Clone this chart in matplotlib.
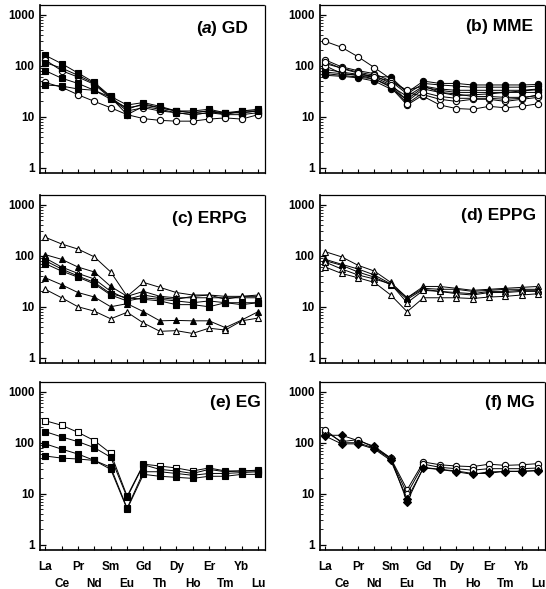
import matplotlib.pyplot as plt
from matplotlib.ticker import FixedLocator, NullFormatter

plt.rcParams['font.family'] = ['Liberation Sans', 'DejaVu Sans']
plt.rcParams['font.weight'] = 'bold'

elements = ['La', 'Ce', 'Pr', 'Nd', 'Sm', 'Eu', 'Gd', 'Th', 'Dy', 'Ho', 'Er', 'Tm', 'Yb', 'Lu']

# (a) GD
gd_1 = [160, 110, 72, 47, 25, 17, 19, 16, 13, 13, 14, 12, 13, 14]
gd_2 = [130, 80, 60, 43, 23, 13, 15, 13, 12, 11, 12, 11, 11, 12]
gd_3 = [115, 90, 65, 45, 24, 14, 18, 15, 13, 12, 13, 11, 13, 13]
gd_4 = [80, 57, 45, 33, 22, 15, 17, 15, 13, 12, 13, 12, 12, 13]
gd_5 = [47, 38, 27, 20, 15, 11, 9.2, 8.5, 8.2, 8.2, 9, 9.5, 9, 11]
gd_6 = [42, 40, 35, 33, 24, 11, 16, 14, 12, 11, 12, 12, 12, 13]

# (b) MME
mme_1 = [300, 230, 150, 92, 55, 30, 25, 17, 14.5, 14, 16, 15, 16, 18]
mme_2 = [85, 75, 68, 62, 60, 30, 50, 45, 45, 42, 42, 42, 42, 43]
mme_3 = [75, 70, 65, 60, 50, 28, 45, 42, 40, 38, 38, 38, 38, 40]
mme_4 = [130, 95, 80, 70, 50, 33, 40, 30, 28, 25, 25, 24, 24, 26]
mme_5 = [110, 90, 75, 65, 45, 20, 35, 30, 26, 27, 28, 30, 32, 34]
mme_6 = [70, 65, 60, 55, 40, 25, 40, 35, 33, 33, 33, 33, 33, 35]
mme_7 = [100, 70, 65, 55, 38, 17, 27, 22, 20, 22, 22, 20, 22, 24]
mme_8 = [65, 62, 58, 50, 35, 22, 38, 33, 30, 30, 30, 30, 30, 30]
mme_9 = [120, 88, 72, 60, 42, 18, 30, 25, 23, 23, 23, 22, 23, 27]

# (c) ERPG
erpg_1 = [230, 170, 135, 95, 48, 16, 30, 24, 19, 17, 17, 16, 16, 16]
erpg_2 = [105, 85, 60, 48, 25, 16, 20, 16, 15, 15, 15, 15, 15, 15]
erpg_3 = [90, 60, 45, 35, 20, 14, 17, 15, 14, 16, 17, 14, 16, 17]
erpg_4 = [80, 55, 40, 30, 18, 15, 14, 13, 11, 11, 10, 12, 11, 12]
erpg_5 = [70, 50, 38, 28, 17, 13, 15, 14, 13, 12, 13, 12, 12, 12]
erpg_6 = [37, 27, 19, 15.5, 10, 11.5, 8, 5.3, 5.4, 5.3, 5.3, 3.9, 5.5, 8]
erpg_7 = [22, 15, 10, 8.2, 5.8, 7.8, 4.8, 3.3, 3.4, 3.0, 3.8, 3.5, 5.3, 6.0]

# (d) EPPG
eppg_1 = [120, 95, 65, 50, 30, 15, 25, 25, 23, 21, 22, 23, 24, 25]
eppg_2 = [85, 68, 55, 42, 28, 15, 23, 22, 22, 20, 21, 22, 22, 22]
eppg_3 = [80, 65, 48, 38, 27, 14, 22, 20, 19, 18, 20, 20, 21, 21]
eppg_4 = [75, 55, 42, 35, 28, 12, 21, 20, 18, 17, 19, 19, 20, 20]
eppg_5 = [60, 45, 37, 30, 17, 8, 15, 15, 15, 14.5, 15.5, 16, 17, 18]

# (e) EG
eg_1 = [270, 220, 160, 110, 62, 9, 38, 35, 32, 28, 32, 28, 28, 29]
eg_2 = [165, 130, 105, 80, 52, 8.5, 37, 30, 28, 25, 30, 27, 28, 28]
eg_3 = [95, 75, 60, 45, 33, 5.2, 27, 27, 25, 23, 25, 25, 26, 27]
eg_4 = [55, 50, 48, 45, 30, 5, 24, 22, 21, 20, 22, 22, 24, 24]

# (f) MG
mg_1 = [140, 140, 110, 85, 50, 7, 33, 30, 28, 25, 25, 28, 27, 29]
mg_2 = [165, 105, 115, 80, 50, 12, 42, 37, 35, 34, 38, 36, 37, 39]
mg_3 = [180, 100, 100, 78, 48, 10, 38, 33, 31, 29, 31, 31, 31, 32]
mg_4 = [135, 95, 95, 75, 45, 8, 32, 30, 27, 24, 27, 27, 28, 28]


def draw_panel(ax, series, letter, name, tx, ty, italic=False, labels=False):
    """
    Draws one chondrite normalised REE panel
    """
    x = range(len(elements))
    for values, marker, filled in series:
        ax.plot(x, values, color='black', lw=0.7, marker=marker, ms=4.5,
                mfc='black' if filled else 'white', mec='black', mew=0.8)
    ax.set_yscale('log')
    ax.set_ylim(0.79, 1550)
    ax.set_xlim(-0.32, 13.42)
    ax.yaxis.set_major_locator(FixedLocator([1, 10, 100, 1000]))
    ax.set_yticklabels(['1', '10', '100', '1000'], fontsize=8.5, fontweight='bold')
    ax.yaxis.set_minor_locator(FixedLocator([m * d for d in (1, 10, 100) for m in range(2, 10)]))
    ax.yaxis.set_minor_formatter(NullFormatter())
    ax.tick_params(axis='y', which='major', direction='in', length=4, width=0.9, pad=4)
    ax.tick_params(axis='y', which='minor', direction='in', length=2.2, width=0.6)
    ax.set_xticks(list(x))
    ax.tick_params(axis='x', direction='in', length=3, width=0.8, pad=8)
    if labels:
        ticklabels = [e if i % 2 == 0 else '\n' + e for i, e in enumerate(elements)]
        ax.set_xticklabels(ticklabels, fontsize=8.5, fontweight='bold', linespacing=1.55)
    else:
        ax.set_xticklabels([])
    for side in ['left', 'bottom']:
        ax.spines[side].set_linewidth(1.2)
    for side in ['top', 'right']:
        ax.spines[side].set_linewidth(0.9)
        ax.spines[side].set_linestyle((0, (1.5, 1)))
    # panel title, letter possibly in italic
    t1 = ax.text(tx, ty, ') ' + name, transform=ax.transAxes, ha='right', va='center',
                 fontsize=12.5, fontweight='bold')
    t2 = ax.annotate(letter, xy=(0, 0), xycoords=t1, ha='right', va='bottom',
                     fontsize=12.5, fontweight='bold', style='italic' if italic else 'normal')
    ax.annotate('(', xy=(0, 0), xycoords=t2, ha='right', va='bottom',
                fontsize=12.5, fontweight='bold')


fig = plt.figure(figsize=(5.46, 5.89), dpi=100)
W = 225 / 546
H = 168 / 589
ax_a = fig.add_axes([40 / 546, 1 - 173 / 589, W, H])
ax_b = fig.add_axes([320 / 546, 1 - 173 / 589, W, H])
ax_c = fig.add_axes([40 / 546, 1 - 363 / 589, W, H])
ax_d = fig.add_axes([320 / 546, 1 - 363 / 589, W, H])
ax_e = fig.add_axes([40 / 546, 1 - 550 / 589, W, H])
ax_f = fig.add_axes([320 / 546, 1 - 550 / 589, W, H])

draw_panel(ax_a, [(gd_1, 's', True), (gd_2, 'o', False), (gd_3, 's', True),
                  (gd_4, 's', True), (gd_5, 'o', False), (gd_6, 's', True)],
           'a', 'GD', 0.925, 0.86, italic=True)
draw_panel(ax_b, [(mme_1, 'o', False), (mme_2, 'o', True), (mme_3, 'o', True),
                  (mme_4, 'o', False), (mme_5, 'o', False), (mme_6, 'o', True),
                  (mme_7, 'o', False), (mme_8, 'o', True), (mme_9, 'o', False)],
           'b', 'MME', 0.945, 0.87)
draw_panel(ax_c, [(erpg_1, '^', False), (erpg_2, '^', True), (erpg_3, '^', False),
                  (erpg_4, 's', True), (erpg_5, 's', True), (erpg_6, '^', True),
                  (erpg_7, '^', False)],
           'c', 'ERPG', 0.92, 0.86)
draw_panel(ax_d, [(eppg_1, '^', False), (eppg_2, '^', True), (eppg_3, '^', True),
                  (eppg_4, '^', False), (eppg_5, '^', False)],
           'd', 'EPPG', 0.96, 0.88)
draw_panel(ax_e, [(eg_1, 's', False), (eg_2, 's', True), (eg_3, 's', True),
                  (eg_4, 's', True)],
           'e', 'EG', 0.98, 0.88, labels=True)
draw_panel(ax_f, [(mg_1, 'D', True), (mg_2, 'o', False), (mg_3, 'o', False),
                  (mg_4, 'D', True)],
           'f', 'MG', 0.955, 0.88, labels=True)

plt.savefig('out.png', dpi=100)
